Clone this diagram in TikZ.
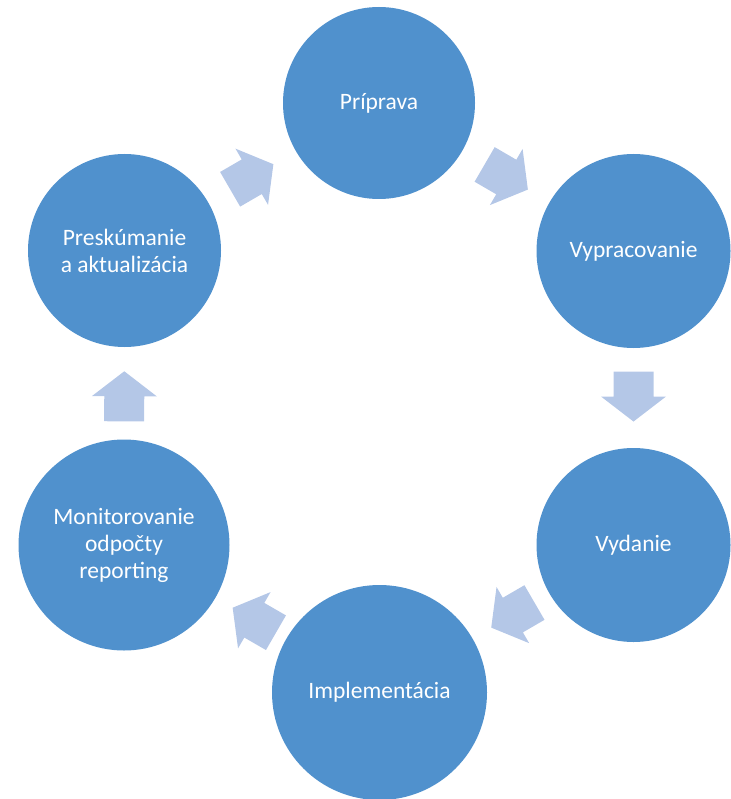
\documentclass[tikz,border=0pt]{standalone}
\usepackage{fontspec}
\setmainfont{Carlito}
\usetikzlibrary{calc,backgrounds}
\definecolor{circblue}{HTML}{5091CD}
\definecolor{arrowblue}{HTML}{B4C7E7}
\newcommand\cyclearrow[3][0.5]{%
  \path let \p1=($(#3)-(#2)$), \n1={atan2(\y1,\x1)} in
    ($(#2)!#1!(#3)$) pic[rotate=\n1] {blockarrow};}
\begin{document}
\begin{tikzpicture}[x=1pt,y=1pt,
  stage/.style={circle, fill=circblue, text=white, inner sep=0pt, align=center,
    font=\fontsize{23.5}{27}\selectfont},
  blockarrow/.pic={\fill[arrowblue] (-25,-20) -- (0,-20) -- (0,-32.5) -- (25,0)
    -- (0,32.5) -- (0,20) -- (-25,20) -- cycle;}]
\useasboundingbox (0,0) rectangle (730,-799);
\node[stage, minimum size=192pt] (P)  at (379,-103)   {Príprava};
\node[stage, minimum size=194pt] (V)  at (633.5,-251) {Vypracovanie};
\node[stage, minimum size=194pt] (VY) at (633.5,-545) {Vydanie};
\node[stage, minimum size=215pt] (I)  at (379.5,-692.5) {Implementácia};
\node[stage, minimum size=211pt] (M)  at (124,-545)   {Monitorovanie\\odpočty\\reporting};
\node[stage, minimum size=193pt] (R)  at (124.5,-250.5) {Preskúmanie\\a aktualizácia};
\begin{scope}[on background layer]
\cyclearrow{R}{P}
\cyclearrow{P}{V}
\cyclearrow[0.495]{V}{VY}
\cyclearrow[0.475]{VY}{I}
\cyclearrow[0.49]{I}{M}
\cyclearrow[0.505]{M}{R}
\end{scope}
\end{tikzpicture}
\end{document}
